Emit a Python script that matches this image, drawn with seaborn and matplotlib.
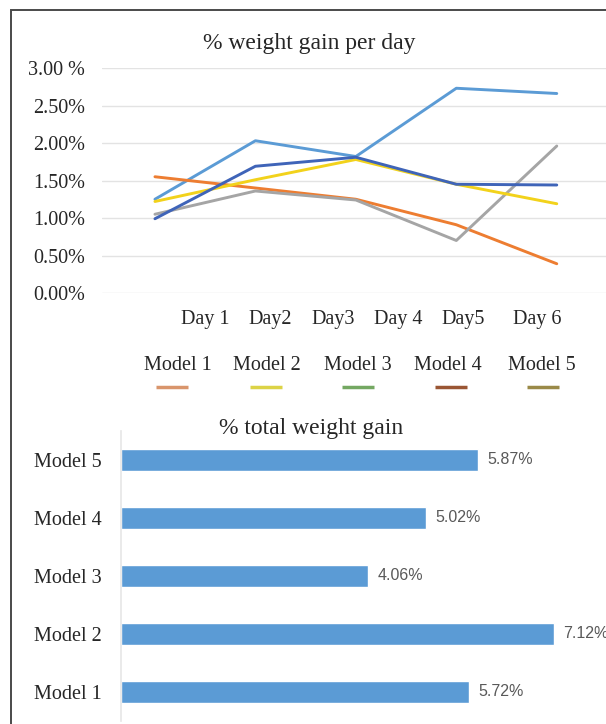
import pandas as pd
import matplotlib.pyplot as plt
import seaborn as sns
from matplotlib.patches import Rectangle

# Data
points = [0, 1, 2, 3, 4]
series_1 = [1.25, 2.03, 1.82, 2.73, 2.66]   # light blue
series_2 = [1.55, 1.40, 1.25, 0.91, 0.39]   # orange
series_3 = [1.05, 1.36, 1.24, 0.70, 1.96]   # grey
series_4 = [1.22, 1.51, 1.78, 1.45, 1.19]   # yellow
series_5 = [0.99, 1.69, 1.81, 1.45, 1.44]   # dark blue
line_colors = ['#5b9bd5', '#ed7d31', '#a5a5a5', '#f2d21b', '#3f64b8']

day_labels = ['Day 1', 'Day2', 'Day3', 'Day 4', 'Day5', 'Day 6']
day_ticks = [0.50, 1.15, 1.77, 2.42, 3.07, 3.81]
y_ticks = [0, 0.5, 1.0, 1.5, 2.0, 2.5, 3.0]
y_labels = ['0.00%', '0.50%', '1.00%', '1.50%', '2.00%', '2.50%', '3.00 %']

legend_names = ['Model 1', 'Model 2', 'Model 3', 'Model 4', 'Model 5']
legend_colors = ['#d9956c', '#dcd346', '#74a862', '#9a5634', '#9a8a48']
legend_text_x = [178, 267, 358, 448, 542]
legend_line_x = [172, 266, 358, 451, 543]

bar_models = ['Model 5', 'Model 4', 'Model 3', 'Model 2', 'Model 1']
bar_values = [5.87, 5.02, 4.06, 7.12, 5.72]

W, H = 606, 724
serif = 'Liberation Serif'

sns.set_style('white')
fig = plt.figure(figsize=(W / 100, H / 100), dpi=100)

# frame round the whole picture (only left and top edges visible)
fig.add_artist(Rectangle((11 / W, -0.1), 1.2, 1 - 10 / H + 0.1, transform=fig.transFigure,
                         fill=False, edgecolor='#4a4a4a', linewidth=1.4))

# ---- top: line chart
ax1 = fig.add_axes([102 / W, 1 - 293 / H, (W - 102) / W, 225 / H])
lines = pd.DataFrame({
    'x': points * 5,
    'value': series_1 + series_2 + series_3 + series_4 + series_5,
    'series': sum([[s] * 5 for s in ['s1', 's2', 's3', 's4', 's5']], []),
})
sns.lineplot(data=lines, x='x', y='value', hue='series', palette=line_colors,
             linewidth=2.1, legend=False, ax=ax1)
ax1.set_xlim(-0.527, 4.49)
ax1.set_ylim(0, 3.0)
ax1.set_yticks(y_ticks)
ax1.set_yticklabels(y_labels, fontfamily=serif, fontsize=14.5)
ax1.set_xticks(day_ticks)
ax1.set_xticklabels(day_labels, fontfamily=serif, fontsize=14.5)
ax1.tick_params(axis='y', length=0, pad=12)
ax1.tick_params(axis='x', length=0, pad=12)
ax1.grid(axis='y', color='#e3e3e3', linewidth=1)
ax1.set_axisbelow(True)
ax1.set_xlabel('')
ax1.set_ylabel('')
for s in ax1.spines.values():
    s.set_visible(False)

fig.text(309 / W, 1 - 43 / H, '% weight gain per day', ha='center', va='center',
         fontfamily=serif, fontsize=17)

# ---- legend (text above a short swatch)
axl = fig.add_axes([0, 1 - 400 / H, 1, 60 / H])
axl.set_xlim(0, W)
axl.set_ylim(400, 340)
axl.axis('off')
for name, col, tx, lx in zip(legend_names, legend_colors, legend_text_x, legend_line_x):
    axl.text(tx, 366, name, ha='center', va='center', fontfamily=serif, fontsize=14.5)
    axl.plot([lx - 16, lx + 16], [387, 387], color=col, linewidth=2.5, solid_capstyle='butt')

# ---- bottom: bar chart
fig.text(311 / W, 1 - 428 / H, '% total weight gain', ha='center', va='center',
         fontfamily=serif, fontsize=17)
ax2 = fig.add_axes([121 / W, 1 - 721 / H, (W - 121) / W, 290 / H])
sns.barplot(x=bar_values, y=bar_models, order=bar_models, orient='h',
            color='#5b9bd5', saturation=1, width=0.38, ax=ax2)
ax2.set_xlim(0, 7.98)
ax2.set_ylim(4.5, -0.5)
ax2.set_xticks([])
ax2.set_yticklabels(bar_models, fontfamily=serif, fontsize=14.5)
ax2.tick_params(axis='y', length=0, pad=14)
for side in ['top', 'right', 'bottom']:
    ax2.spines[side].set_visible(False)
ax2.spines['left'].set_color('#e6e6e6')
ax2.spines['left'].set_linewidth(1.2)
ax2.bar_label(ax2.containers[0], labels=[f'{v:.2f}%' for v in bar_values],
              padding=7, color='#595959', fontfamily='Liberation Sans', fontsize=11.5)

fig.savefig('out.png', dpi=100)
